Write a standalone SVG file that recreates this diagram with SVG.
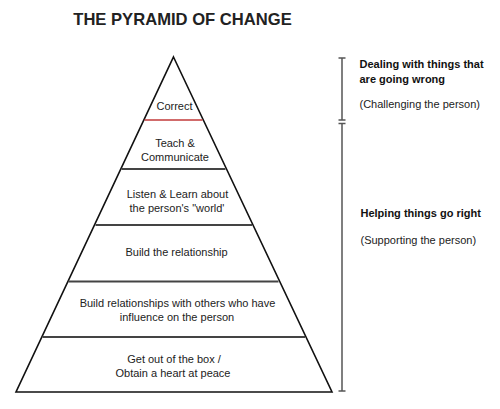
<svg xmlns="http://www.w3.org/2000/svg" width="500" height="409" viewBox="0 0 500 409">
<style>
.t{font-family:"Liberation Sans",Arial,sans-serif;font-size:11px;fill:#222;text-anchor:middle}
.r{font-family:"Liberation Sans",Arial,sans-serif;font-size:11px;fill:#222}
.b{font-weight:bold;fill:#111}
.div{stroke:#444;stroke-width:2;fill:none}
.br{stroke:#555;stroke-width:1.5;fill:none}
</style>
<rect width="500" height="409" fill="#fff"/>
<text x="182.5" y="25" font-family="Liberation Sans,Arial,sans-serif" font-size="16.6" font-weight="bold" fill="#222" text-anchor="middle">THE PYRAMID OF CHANGE</text>
<g id="pyramid">
<polygon points="173.5,57 332,392 16,392" fill="#fff" stroke="#111" stroke-width="1.6" stroke-linejoin="miter"/>
</g>
<g id="connectors">
<line x1="144.5" y1="120" x2="202.5" y2="120" stroke="#c23a3a" stroke-width="1.6"/>
<line class="div" x1="121.5" y1="169" x2="225.5" y2="169"/>
<line class="div" x1="95.5" y1="225" x2="252" y2="225"/>
<line class="div" x1="68.5" y1="281.5" x2="278.5" y2="281.5"/>
<line class="div" x1="42.5" y1="337" x2="305" y2="337"/>
<path class="br" d="M342,58 V120 M338.5,58 H345.5 M338.5,120 H345.5 M338.5,123.5 H345.5 M342,123.5 V391 M338.5,391 H345.5"/>
</g>
<g id="n-correct"><text class="t" x="174.5" y="110">Correct</text></g>
<g id="n-teach"><text class="t" x="175" y="147">Teach &amp;</text><text class="t" x="175" y="161">Communicate</text></g>
<g id="n-listen"><text class="t" x="177.5" y="198">Listen &amp; Learn about</text><text class="t" x="177" y="212">the person's "world'</text></g>
<g id="n-build"><text class="t" x="176.5" y="256">Build the relationship</text></g>
<g id="n-others"><text class="t" x="177.5" y="307">Build relationships with others who have</text><text class="t" x="177" y="321">influence on the person</text></g>
<g id="n-box"><text class="t" x="174" y="363">Get out of the box /</text><text class="t" x="173" y="377">Obtain a heart at peace</text></g>
<g id="n-wrong"><text class="r b" x="359.5" y="68">Dealing with things that</text><text class="r b" x="359.5" y="83">are going wrong</text><text class="r" x="359.5" y="108">(Challenging the person)</text></g>
<g id="n-right"><text class="r b" x="360.5" y="217">Helping things go right</text><text class="r" x="360.5" y="244">(Supporting the person)</text></g>
</svg>
